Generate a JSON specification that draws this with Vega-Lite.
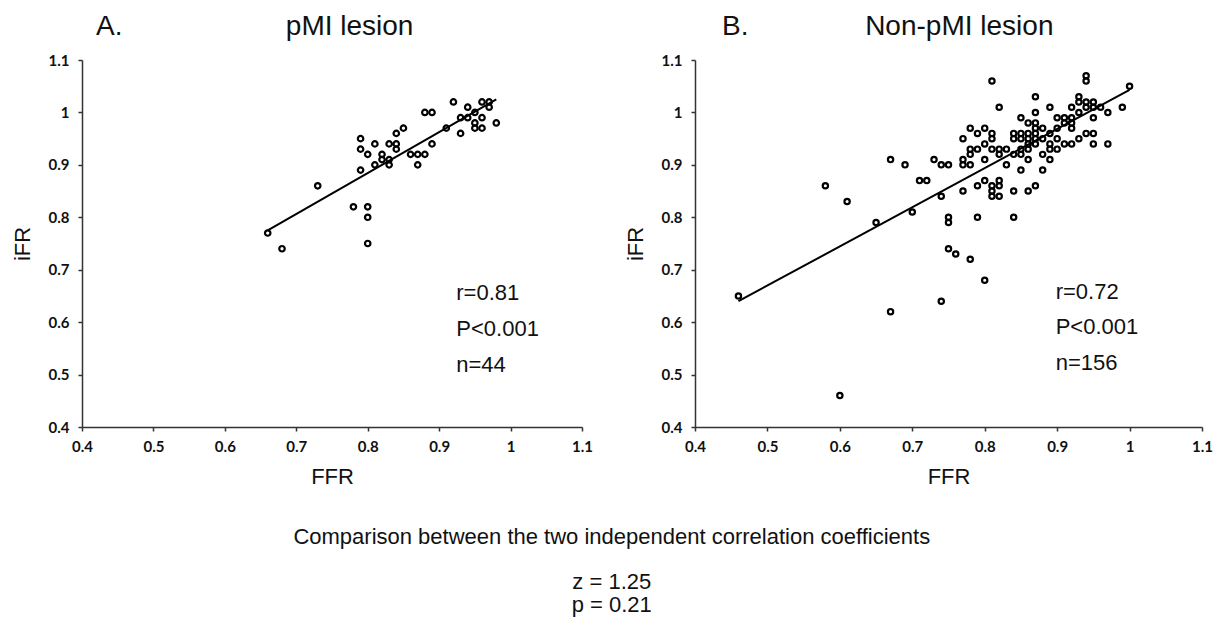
{
  "$schema": "https://vega.github.io/schema/vega-lite/v6.json",
  "padding": {"left": 11, "top": 13, "right": 3, "bottom": 5},
  "background": "white",
  "config": {
    "view": {"stroke": null},
    "font": "Liberation Sans",
    "axis": {
      "grid": false,
      "domainColor": "#333333",
      "domainWidth": 1.5,
      "tickColor": "#333333",
      "tickWidth": 1.5,
      "tickSize": 4,
      "labelFont": "Lato",
      "labelFontWeight": "bold",
      "labelFontSize": 15,
      "labelColor": "#111111",
      "labelFlush": false,
      "titleFont": "Liberation Sans",
      "titleFontWeight": "normal",
      "titleFontSize": 22,
      "titleColor": "#111111"
    },
    "axisY": {"labelPadding": 9, "titlePadding": 14},
    "axisX": {"labelPadding": 8, "titlePadding": 12},
    "concat": {"spacing": 31}
  },
  "title": {
    "text": "Comparison between the two independent correlation coefficients",
    "subtitle": ["z = 1.25", "p = 0.21"],
    "orient": "bottom",
    "anchor": "middle",
    "font": "Liberation Sans",
    "fontSize": 22,
    "fontWeight": "normal",
    "color": "#111111",
    "subtitleFont": "Liberation Sans",
    "subtitleFontSize": 22,
    "subtitleColor": "#111111",
    "subtitlePadding": 23,
    "subtitleLineHeight": 23,
    "offset": 40
  },
  "hconcat": [
    {
      "width": 500,
      "height": 367,
      "title": {
        "text": "A.\u00a0\u00a0\u00a0\u00a0\u00a0\u00a0\u00a0\u00a0\u00a0\u00a0\u00a0\u00a0\u00a0\u00a0\u00a0\u00a0\u00a0\u00a0\u00a0\u00a0\u00a0pMI lesion",
        "anchor": "start",
        "frame": "group",
        "dx": 14,
        "fontSize": 28,
        "fontWeight": "normal",
        "font": "Liberation Sans",
        "color": "#111111",
        "offset": 12
      },
      "layer": [
        {
          "data": {"values": [
            {"FFR": 0.66, "iFR": 0.77}, {"FFR": 0.68, "iFR": 0.74}, {"FFR": 0.73, "iFR": 0.86},
            {"FFR": 0.78, "iFR": 0.82}, {"FFR": 0.80, "iFR": 0.82}, {"FFR": 0.80, "iFR": 0.80},
            {"FFR": 0.80, "iFR": 0.75}, {"FFR": 0.79, "iFR": 0.95}, {"FFR": 0.79, "iFR": 0.93},
            {"FFR": 0.80, "iFR": 0.92}, {"FFR": 0.79, "iFR": 0.89}, {"FFR": 0.81, "iFR": 0.94},
            {"FFR": 0.81, "iFR": 0.90}, {"FFR": 0.82, "iFR": 0.92}, {"FFR": 0.82, "iFR": 0.91},
            {"FFR": 0.83, "iFR": 0.94}, {"FFR": 0.83, "iFR": 0.91}, {"FFR": 0.83, "iFR": 0.90},
            {"FFR": 0.84, "iFR": 0.96}, {"FFR": 0.84, "iFR": 0.94}, {"FFR": 0.84, "iFR": 0.93},
            {"FFR": 0.85, "iFR": 0.97}, {"FFR": 0.86, "iFR": 0.92}, {"FFR": 0.87, "iFR": 0.92},
            {"FFR": 0.87, "iFR": 0.90}, {"FFR": 0.88, "iFR": 0.92}, {"FFR": 0.88, "iFR": 1.00},
            {"FFR": 0.89, "iFR": 1.00}, {"FFR": 0.89, "iFR": 0.94}, {"FFR": 0.91, "iFR": 0.97},
            {"FFR": 0.92, "iFR": 1.02}, {"FFR": 0.93, "iFR": 0.99}, {"FFR": 0.93, "iFR": 0.96},
            {"FFR": 0.94, "iFR": 1.01}, {"FFR": 0.94, "iFR": 0.99}, {"FFR": 0.95, "iFR": 0.98},
            {"FFR": 0.95, "iFR": 0.97}, {"FFR": 0.96, "iFR": 1.02}, {"FFR": 0.96, "iFR": 0.99},
            {"FFR": 0.96, "iFR": 0.97}, {"FFR": 0.97, "iFR": 1.02}, {"FFR": 0.98, "iFR": 0.98},
            {"FFR": 0.95, "iFR": 1.00}, {"FFR": 0.97, "iFR": 1.01}
          ]},
          "mark": {"type": "point", "shape": "circle", "filled": false, "color": "black", "size": 30, "strokeWidth": 2.2, "opacity": 1},
          "encoding": {
            "x": {"field": "FFR", "type": "quantitative", "scale": {"domain": [0.4, 1.1], "nice": false, "zero": false},
                  "axis": {"values": [0.4, 0.5, 0.6, 0.7, 0.8, 0.9, 1.0, 1.1], "format": "~g", "title": "FFR"}},
            "y": {"field": "iFR", "type": "quantitative", "scale": {"domain": [0.4, 1.1], "nice": false, "zero": false},
                  "axis": {"values": [0.4, 0.5, 0.6, 0.7, 0.8, 0.9, 1.0, 1.1], "format": "~g", "title": "iFR"}}
          }
        },
        {
          "data": {"values": [{"FFR": 0.66, "iFR": 0.775}, {"FFR": 0.98, "iFR": 1.025}]},
          "mark": {"type": "line", "color": "black", "strokeWidth": 2},
          "encoding": {
            "x": {"field": "FFR", "type": "quantitative"},
            "y": {"field": "iFR", "type": "quantitative"}
          }
        },
        {
          "data": {"values": [
            {"FFR": 0.924, "iFR": 0.656, "label": "r=0.81"},
            {"FFR": 0.924, "iFR": 0.587, "label": "P<0.001"},
            {"FFR": 0.924, "iFR": 0.518, "label": "n=44"}
          ]},
          "mark": {"type": "text", "align": "left", "baseline": "middle", "fontSize": 22, "font": "Liberation Sans", "color": "#111111"},
          "encoding": {
            "x": {"field": "FFR", "type": "quantitative"},
            "y": {"field": "iFR", "type": "quantitative"},
            "text": {"field": "label"}
          }
        }
      ]
    },
    {
      "width": 507,
      "height": 367,
      "title": {
        "text": "B.\u00a0\u00a0\u00a0\u00a0\u00a0\u00a0\u00a0\u00a0\u00a0\u00a0\u00a0\u00a0\u00a0\u00a0\u00a0Non-pMI lesion",
        "anchor": "start",
        "frame": "group",
        "dx": 27,
        "fontSize": 28,
        "fontWeight": "normal",
        "font": "Liberation Sans",
        "color": "#111111",
        "offset": 12
      },
      "layer": [
        {
          "data": {"values": [
            {"FFR": 0.46, "iFR": 0.65}, {"FFR": 0.60, "iFR": 0.46}, {"FFR": 0.67, "iFR": 0.62},
            {"FFR": 0.58, "iFR": 0.86}, {"FFR": 0.61, "iFR": 0.83}, {"FFR": 0.65, "iFR": 0.79},
            {"FFR": 0.67, "iFR": 0.91}, {"FFR": 0.69, "iFR": 0.90}, {"FFR": 0.70, "iFR": 0.81},
            {"FFR": 0.71, "iFR": 0.87}, {"FFR": 0.72, "iFR": 0.87}, {"FFR": 0.73, "iFR": 0.91},
            {"FFR": 0.74, "iFR": 0.90}, {"FFR": 0.75, "iFR": 0.90}, {"FFR": 0.74, "iFR": 0.84},
            {"FFR": 0.75, "iFR": 0.80}, {"FFR": 0.75, "iFR": 0.79}, {"FFR": 0.75, "iFR": 0.74},
            {"FFR": 0.76, "iFR": 0.73}, {"FFR": 0.78, "iFR": 0.72}, {"FFR": 0.80, "iFR": 0.68},
            {"FFR": 0.74, "iFR": 0.64}, {"FFR": 0.77, "iFR": 0.85}, {"FFR": 0.77, "iFR": 0.91},
            {"FFR": 0.77, "iFR": 0.95}, {"FFR": 0.77, "iFR": 0.90}, {"FFR": 0.78, "iFR": 0.97},
            {"FFR": 0.78, "iFR": 0.93}, {"FFR": 0.78, "iFR": 0.92}, {"FFR": 0.78, "iFR": 0.90},
            {"FFR": 0.79, "iFR": 0.96}, {"FFR": 0.79, "iFR": 0.93}, {"FFR": 0.79, "iFR": 0.86},
            {"FFR": 0.79, "iFR": 0.80}, {"FFR": 0.80, "iFR": 0.97}, {"FFR": 0.80, "iFR": 0.94},
            {"FFR": 0.80, "iFR": 0.91}, {"FFR": 0.80, "iFR": 0.87}, {"FFR": 0.81, "iFR": 1.06},
            {"FFR": 0.81, "iFR": 0.96}, {"FFR": 0.81, "iFR": 0.95}, {"FFR": 0.81, "iFR": 0.93},
            {"FFR": 0.81, "iFR": 0.86}, {"FFR": 0.81, "iFR": 0.85}, {"FFR": 0.81, "iFR": 0.84},
            {"FFR": 0.82, "iFR": 1.01}, {"FFR": 0.82, "iFR": 0.93}, {"FFR": 0.82, "iFR": 0.92},
            {"FFR": 0.82, "iFR": 0.87}, {"FFR": 0.82, "iFR": 0.86}, {"FFR": 0.82, "iFR": 0.84},
            {"FFR": 0.83, "iFR": 0.93}, {"FFR": 0.83, "iFR": 0.90}, {"FFR": 0.84, "iFR": 0.96},
            {"FFR": 0.84, "iFR": 0.95}, {"FFR": 0.84, "iFR": 0.92}, {"FFR": 0.84, "iFR": 0.85},
            {"FFR": 0.84, "iFR": 0.80}, {"FFR": 0.85, "iFR": 0.99}, {"FFR": 0.85, "iFR": 0.96},
            {"FFR": 0.85, "iFR": 0.95}, {"FFR": 0.85, "iFR": 0.93}, {"FFR": 0.85, "iFR": 0.92},
            {"FFR": 0.85, "iFR": 0.89}, {"FFR": 0.86, "iFR": 0.98}, {"FFR": 0.86, "iFR": 0.96},
            {"FFR": 0.86, "iFR": 0.95}, {"FFR": 0.86, "iFR": 0.94}, {"FFR": 0.86, "iFR": 0.93},
            {"FFR": 0.86, "iFR": 0.91}, {"FFR": 0.86, "iFR": 0.85}, {"FFR": 0.87, "iFR": 1.03},
            {"FFR": 0.87, "iFR": 1.00}, {"FFR": 0.87, "iFR": 0.98}, {"FFR": 0.87, "iFR": 0.97},
            {"FFR": 0.87, "iFR": 0.96}, {"FFR": 0.87, "iFR": 0.95}, {"FFR": 0.87, "iFR": 0.94},
            {"FFR": 0.87, "iFR": 0.86}, {"FFR": 0.88, "iFR": 0.97}, {"FFR": 0.88, "iFR": 0.95},
            {"FFR": 0.88, "iFR": 0.92}, {"FFR": 0.88, "iFR": 0.89}, {"FFR": 0.89, "iFR": 1.01},
            {"FFR": 0.89, "iFR": 0.96}, {"FFR": 0.89, "iFR": 0.94}, {"FFR": 0.89, "iFR": 0.93},
            {"FFR": 0.89, "iFR": 0.91}, {"FFR": 0.90, "iFR": 0.99}, {"FFR": 0.90, "iFR": 0.97},
            {"FFR": 0.90, "iFR": 0.95}, {"FFR": 0.90, "iFR": 0.93}, {"FFR": 0.91, "iFR": 0.99},
            {"FFR": 0.91, "iFR": 0.98}, {"FFR": 0.91, "iFR": 0.94}, {"FFR": 0.92, "iFR": 1.01},
            {"FFR": 0.92, "iFR": 0.99}, {"FFR": 0.92, "iFR": 0.97}, {"FFR": 0.92, "iFR": 0.94},
            {"FFR": 0.92, "iFR": 0.98}, {"FFR": 0.93, "iFR": 1.03}, {"FFR": 0.93, "iFR": 1.02},
            {"FFR": 0.93, "iFR": 1.00}, {"FFR": 0.93, "iFR": 0.95}, {"FFR": 0.94, "iFR": 1.07},
            {"FFR": 0.94, "iFR": 1.06}, {"FFR": 0.94, "iFR": 1.02}, {"FFR": 0.94, "iFR": 1.01},
            {"FFR": 0.94, "iFR": 0.96}, {"FFR": 0.95, "iFR": 1.02}, {"FFR": 0.95, "iFR": 1.01},
            {"FFR": 0.95, "iFR": 0.99}, {"FFR": 0.95, "iFR": 0.96}, {"FFR": 0.95, "iFR": 0.94},
            {"FFR": 0.96, "iFR": 1.01}, {"FFR": 0.97, "iFR": 1.00}, {"FFR": 0.97, "iFR": 0.94},
            {"FFR": 0.99, "iFR": 1.01}, {"FFR": 1.00, "iFR": 1.05}
          ]},
          "mark": {"type": "point", "shape": "circle", "filled": false, "color": "black", "size": 28, "strokeWidth": 2.2, "opacity": 1},
          "encoding": {
            "x": {"field": "FFR", "type": "quantitative", "scale": {"domain": [0.4, 1.1], "nice": false, "zero": false},
                  "axis": {"values": [0.4, 0.5, 0.6, 0.7, 0.8, 0.9, 1.0, 1.1], "format": "~g", "title": "FFR"}},
            "y": {"field": "iFR", "type": "quantitative", "scale": {"domain": [0.4, 1.1], "nice": false, "zero": false},
                  "axis": {"values": [0.4, 0.5, 0.6, 0.7, 0.8, 0.9, 1.0, 1.1], "format": "~g", "title": "iFR"}}
          }
        },
        {
          "data": {"values": [{"FFR": 0.46, "iFR": 0.64}, {"FFR": 1.00, "iFR": 1.043}]},
          "mark": {"type": "line", "color": "black", "strokeWidth": 2},
          "encoding": {
            "x": {"field": "FFR", "type": "quantitative"},
            "y": {"field": "iFR", "type": "quantitative"}
          }
        },
        {
          "data": {"values": [
            {"FFR": 0.898, "iFR": 0.657, "label": "r=0.72"},
            {"FFR": 0.898, "iFR": 0.59, "label": "P<0.001"},
            {"FFR": 0.898, "iFR": 0.522, "label": "n=156"}
          ]},
          "mark": {"type": "text", "align": "left", "baseline": "middle", "fontSize": 22, "font": "Liberation Sans", "color": "#111111"},
          "encoding": {
            "x": {"field": "FFR", "type": "quantitative"},
            "y": {"field": "iFR", "type": "quantitative"},
            "text": {"field": "label"}
          }
        }
      ]
    }
  ]
}
